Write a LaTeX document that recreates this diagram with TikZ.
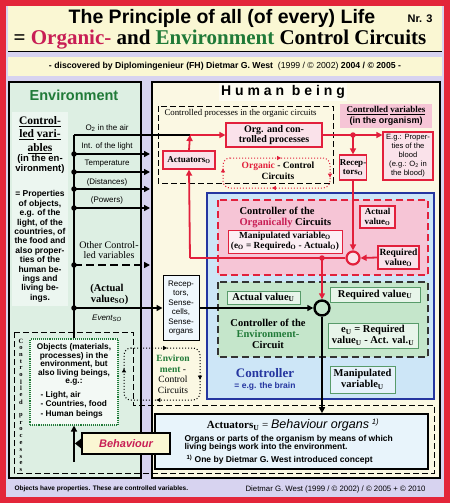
\documentclass[tikz,border=0pt]{standalone}
\usepackage{fontspec}
\setmainfont{Liberation Serif}
\setsansfont{Liberation Sans}
\usetikzlibrary{arrows.meta,decorations.markings}

\definecolor{framered}{HTML}{E3263A}
\definecolor{lavender}{HTML}{D7D3F0}
\definecolor{titlebg}{HTML}{FAF7D3}
\definecolor{envbg}{HTML}{DDEFE3}
\definecolor{humanbg}{HTML}{FBF8E3}
\definecolor{pinkbg}{HTML}{F6C5D6}
\definecolor{orgred}{HTML}{E2203C}
\definecolor{orgtext}{HTML}{C81E55}
\definecolor{envgreen}{HTML}{207A38}
\definecolor{ctrlblue}{HTML}{2536A0}
\definecolor{ctrlbg}{HTML}{CDE6F7}
\definecolor{greenbg}{HTML}{C5E6CB}

\newcommand{\fsz}[2]{\fontsize{#1}{#2}\selectfont}

\tikzset{
  redbox/.style={draw=orgred, line width=1.2pt, fill=pinkbg!50!white,
    align=center, inner sep=0.5pt, font=\bfseries\fsz{9}{9.5}},
  greenbox/.style={draw=envgreen!75, line width=0.8pt, fill=greenbg!40!white,
    align=center, inner sep=0.5pt, font=\bfseries\fsz{10.5}{11}},
  redline/.style={draw=orgred, line width=1.8pt},
  blackline/.style={draw=black, line width=1.8pt},
  jdot/.style={circle, fill, inner sep=0pt, minimum size=5.5pt},
  varlabel/.style={font=\sffamily\fsz{8}{8}},
  loopline/.style n args={4}{dotted, line width=1pt, rounded corners=7pt,
    postaction={decorate}, decoration={markings,
      mark=at position #1 with {\arrow{Triangle[length=4pt,width=4pt]}},
      mark=at position #2 with {\arrow{Triangle[length=4pt,width=4pt]}},
      mark=at position #3 with {\arrow{Triangle[length=4pt,width=4pt]}},
      mark=at position #4 with {\arrow{Triangle[length=4pt,width=4pt]}}}},
}

\begin{document}
\begin{tikzpicture}[x=1pt, y=-1pt, >={Triangle[length=6pt,width=6pt]}]
  \useasboundingbox (0,0) rectangle (450,503);
  % frame, title
  \fill[framered] (0,0) rectangle (450,503);
  \fill[lavender] (6,6) rectangle (444,497);
  \fill[titlebg] (8,6) rectangle (442,52);
  \draw[line width=1pt] (8,52) -- (442,52);
  \fill[titlebg] (8,57) rectangle (442,76);
  \node[font=\sffamily\bfseries\fsz{19.5}{20}] (title) at (222,18) {The Principle of all (of every) Life};
  \node[font=\sffamily\bfseries\fsz{11}{11}] (nr) at (420,19) {Nr. 3};
  \node[font=\bfseries\fsz{21}{21}] (subtitle) at (220,40)
    {= \textcolor{orgtext}{Organic-} and \textcolor{envgreen}{Environment} Control Circuits};
  \node[font=\sffamily\fsz{8.7}{9}] (disc) at (225,66)
    {\textbf{- discovered by Diplomingenieur (FH) Dietmar G. West}\ \ (1999 / © 2002) \textbf{2004 / © 2005 -}};

  % the two panels
  \filldraw[fill=envbg, line width=1.5pt] (9,82) rectangle (141,478);
  \filldraw[fill=humanbg, line width=1.5pt] (152,82) rectangle (440,478);
  \node[font=\sffamily\bfseries\fsz{14.5}{15}, text=envgreen] (env) at (74,95) {Environment};
  \node[font=\sffamily\bfseries\fsz{14}{14}, fill=white!55!humanbg, inner sep=2pt] (human) at (283,92) {H u m a n \ b e i n g};

  % controlled variables in the environment
  \fill[white!45!envbg] (12,112) rectangle (68,306);
  \node[font=\bfseries\fsz{11.5}{13.5}, align=center] (ctrlvar) at (40,135)
    {\underline{Control-}\\\underline{led} \underline{vari-}\\\underline{ables}};
  \node[font=\sffamily\bfseries\fsz{9.5}{9.5}, align=center] (inenv) at (40,164) {(in the en-\\vironment)};
  \node[font=\sffamily\bfseries\fsz{8.5}{9.4}, align=center] (props) at (40,246.5)
    {= Properties\\of objects,\\e.g. of the\\light, of the\\countries, of\\the food and\\also proper-\\ties of the\\human be-\\ings and\\living be-\\ings.};
  \foreach \y/\n/\t in {128/o2/{O\textsubscript{2} in the air}, 146/light/{Int. of the light},
      164/temp/{Temperature}, 182/dist/{(Distances)}, 200/pow/{(Powers)}}
    \node[varlabel] (\n lab) at (107,\y) {\t};
  \node[font=\fsz{10}{10}, align=center] (otherlab) at (109,250) {Other Control-\\led variables};
  \node[font=\bfseries\fsz{10.5}{11}, align=center] (actSOlab) at (107,294) {(Actual\\\ \ value\textsubscript{SO})};
  \node[font=\sffamily\itshape\fsz{8}{8}] (eventlab) at (107,318) {Event\textsubscript{SO}};

  % controlled processes
  \draw[line width=0.9pt, dash pattern=on 6pt off 3pt]
    (14,332) -- (133,332) -- (133,405) -- (434,405) -- (434,473) -- (14,473) -- cycle;
  \foreach \c [count=\i] in {C,o,n,t,r,o,l,l,e,d,{},p,r,o,c,e,s,s,e,s}
    \node[font=\bfseries\fsz{6.5}{6.5}] (cp\i) at (21,{334.2+6.8*\i}) {\c};
  \node[draw=envgreen, densely dotted, line width=1.1pt, fill=white!65!envbg,
    minimum width=88pt, minimum height=86pt] (obj) at (74,382) {};
  \node[font=\sffamily\bfseries\fsz{8.3}{8.6}, align=center] (objtxt) at (74,364.5)
    {Objects (materials,\\processes) in the\\environment, but\\also living beings,\\e.g.:};
  \node[font=\sffamily\bfseries\fsz{8.3}{9.5}, align=left, anchor=west] (objlist) at (37,404.5)
    {- Light, air\\- Countries, food\\- Human beings};

  % organic circuits
  \draw[line width=0.9pt, dash pattern=on 6pt off 3pt] (158,106) rectangle (333,183);
  \node[font=\fsz{8.8}{9}, anchor=west] (cpo) at (161,113) {Controlled processes in the organic circuits};
  \draw[orgred, loopline={0.195}{0.445}{0.695}{0.945}] (223,158) -- (330,158) -- (330,188) -- (223,188) -- cycle;
  \node[font=\bfseries\fsz{9.5}{10.5}, align=center] (orgcc) at (278,171)
    {\textcolor{orgred}{Organic} - Control\\Circuits};
  \node[redbox, minimum width=96pt, minimum height=24pt, font=\bfseries\fsz{10}{10.5}] (org) at (274,135)
    {Org. and con-\\trolled processes};
  \node[redbox, minimum width=52pt, minimum height=18pt] (act) at (189,160) {Actuators\textsubscript{O}};
  \node[fill=pinkbg, minimum width=92pt, minimum height=24pt, align=center, inner sep=0pt,
    font=\bfseries\fsz{9}{10.5}] (cvO) at (386,116)
    {\underline{Controlled} \underline{variables}\\{\sffamily (in the organism)}};
  \node[redbox, minimum width=50pt, minimum height=48pt, font=\sffamily\fsz{7.6}{9}] (blood) at (408,156)
    {E.g.: Proper-\\ties of the\\blood\\(e.g.: O\textsubscript{2} in\\the blood)};
  \node[redbox, minimum width=26pt, minimum height=25pt] (recO) at (353,167.5) {Recep-\\tors\textsubscript{O}};

  % controller
  \filldraw[fill=ctrlbg, draw=ctrlblue, line width=2.2pt] (207,193) rectangle (434,399);
  \filldraw[fill=pinkbg, draw=orgred, dash pattern=on 7pt off 4pt, line width=1.1pt] (218,200) rectangle (428,275);
  \filldraw[fill=greenbg, draw=black!80, dash pattern=on 7pt off 4pt, line width=1.1pt] (218,282) rectangle (428,357);
  \node[font=\bfseries\fsz{10.5}{11}, align=left, anchor=west] (ctrlO) at (236,217)
    {Controller of the\\\textcolor{orgtext}{Organically} Circuits};
  \node[redbox, fill=white!70!pinkbg, line width=0.9pt, minimum width=114pt, minimum height=23pt,
    font=\bfseries\fsz{9.3}{10}] (manO) at (285,241.5)
    {Manipulated variable\textsubscript{O}\\(e\textsubscript{O} = Required\textsubscript{O} - Actual\textsubscript{O})};
  \node[redbox, minimum width=35pt, minimum height=22pt] (actO) at (377.5,217) {Actual\\value\textsubscript{O}};
  \node[redbox, minimum width=41pt, minimum height=23pt, font=\bfseries\fsz{9.5}{10}] (reqO) at (398.5,257.5)
    {Required\\value\textsubscript{O}};
  \node[circle, draw=orgred, line width=2.2pt, fill=white!50!pinkbg, minimum size=13pt, inner sep=0pt] (cmpO) at (353,258) {};
  \node[greenbox, minimum width=73pt, minimum height=13pt] (actU) at (263.5,297.5) {Actual value\textsubscript{U}};
  \node[greenbox, minimum width=90pt, minimum height=15pt] (reqU) at (375,294.5) {Required value\textsubscript{U}};
  \node[font=\bfseries\fsz{10.5}{11}, align=center] (ctrlU) at (268,334)
    {Controller of the\\\textcolor{envgreen}{Environment-}\\Circuit};
  \node[greenbox, minimum width=90pt, minimum height=25pt] (eU) at (373,335.5)
    {e\textsubscript{U} = Required\\value\textsubscript{U} - Act. val.\textsubscript{U}};
  \node[circle, draw=black, line width=2.4pt, minimum size=15pt, inner sep=0pt] (cmpU) at (322,308) {};
  \node[font=\bfseries\fsz{13}{13}, text=ctrlblue] (ctrl) at (265,373) {Controller};
  \node[font=\sffamily\bfseries\fsz{8.5}{9}, text=ctrlblue] (brain) at (265,386) {= e.g. the brain};
  \node[greenbox, fill=white!50!ctrlbg, minimum width=65pt, minimum height=27pt] (manU) at (362.5,379.5)
    {Manipulated\\variable\textsubscript{U}};

  % receptors and environment circuits
  \node[draw, line width=1pt, fill=white!70!ctrlbg, minimum width=36pt, minimum height=65pt, align=center,
    inner sep=0pt, font=\sffamily\fsz{8}{9.5}] (rec) at (181,308) {Recep-\\tors,\\Sense-\\cells,\\Sense-\\organs};
  \draw[black, loopline={0.148}{0.4}{0.65}{0.9}] (124,348) -- (200,348) -- (200,400) -- (124,400) -- cycle;
  \node[font=\fsz{9.5}{10.5}, align=center] (envcc) at (173,374)
    {\textcolor{envgreen}{\bfseries Environ}\\\textcolor{envgreen}{\bfseries ment} -\\Control\\Circuits};

  % actuators of the environment circuit
  \node[draw, line width=1.6pt, fill=white!55!ctrlbg, minimum width=273pt, minimum height=55pt] (actUbox) at (291.5,441.5) {};
  \node[font=\fsz{11}{11}] (actUtit) at (293,425)
    {\textbf{Actuators\textsubscript{U}} = {\sffamily\itshape\fsz{12.5}{12.5}Behaviour organs} \textsuperscript{\sffamily\itshape 1)}};
  \node[font=\sffamily\bfseries\fsz{8.5}{8.2}, align=left, anchor=west] (actUdesc) at (181,443)
    {Organs or parts of the organism by means of which\\living beings work into the environment.};
  \node[font=\sffamily\bfseries\fsz{8.5}{8.5}, anchor=west] (actUnote) at (183,460)
    {\textsuperscript{1)} One by Dietmar G. West introduced concept};
  \node[draw, line width=1.2pt, fill=titlebg, minimum width=88pt, minimum height=21pt,
    font=\sffamily\bfseries\itshape\fsz{11}{11}, text=orgtext] (beh) at (126,443.5) {Behaviour};

  % footer
  \node[font=\sffamily\bfseries\fsz{6.5}{6.5}, anchor=west] (foot1) at (11,489) {Objects have properties. These are controlled variables.};
  \node[font=\sffamily\fsz{7.8}{8}, anchor=east] (foot2) at (429,489) {Dietmar G. West (1999 / © 2002) / © 2005 + © 2010};

  % connectors
  \coordinate (o2) at (74,135);
  \coordinate (oj) at (190,135);
  \coordinate (bj) at (353,135);
  \coordinate (oc) at (190,258);
  \coordinate (ej) at (322,258);
  \coordinate (bb) at (74,462);
  \coordinate (bt) at (75,443.5);
  \draw[blackline] (o2) -- (oj);
  \draw[blackline] (o2) -- (obj.north);
  \foreach \y/\n in {154/light,172/temp,189/dist,208/pow} {
    \coordinate (in-\n) at (74,\y);
    \coordinate (out-\n) at (150,\y);
    \draw[blackline,->] (in-\n) -- (out-\n);
    \node[jdot] (dot-\n) at (in-\n) {};
  }
  \coordinate (in-other) at (74,265);
  \coordinate (out-other) at (150,265);
  \draw[blackline,->,dash pattern=on 8pt off 4pt] (in-other) -- (out-other);
  \node[jdot] (dot-other) at (in-other) {};
  \coordinate (in-act) at (74,308);
  \draw[blackline,->] (in-act) -- (rec.west);
  \node[jdot] (dot-act) at (in-act) {};
  \draw[redline,->] (act.north) -- (oj);
  \draw[redline,->] (oj) -- (org.west);
  \draw[redline,->] (org.east) -- (blood.west |- bj);
  \node[jdot, fill=orgred] (dot-bj) at (bj) {};
  \draw[redline,->] (bj) -- (recO.north);
  \draw[redline,->] (recO.south) -- (cmpO.north);
  \draw[redline,->] (reqO.west) -- (cmpO.east);
  \draw[redline] (cmpO.west) -- (oc);
  \draw[redline,->] (oc) -- (act.south);
  \node[jdot, fill=orgred] (dot-ej) at (ej) {};
  \draw[redline,->] (ej) -- (cmpU.north);
  \draw[blackline,->] (rec.east) -- (cmpU.west);
  \draw[blackline,->] (cmpU.south) -- (cmpU |- actUbox.north);
  \draw[blackline,->] (bb) -- (obj.south);
  \draw[-{Triangle[length=7pt,width=11pt]}, line width=0.5pt] (beh.west) -- (bt);
\end{tikzpicture}
\end{document}
